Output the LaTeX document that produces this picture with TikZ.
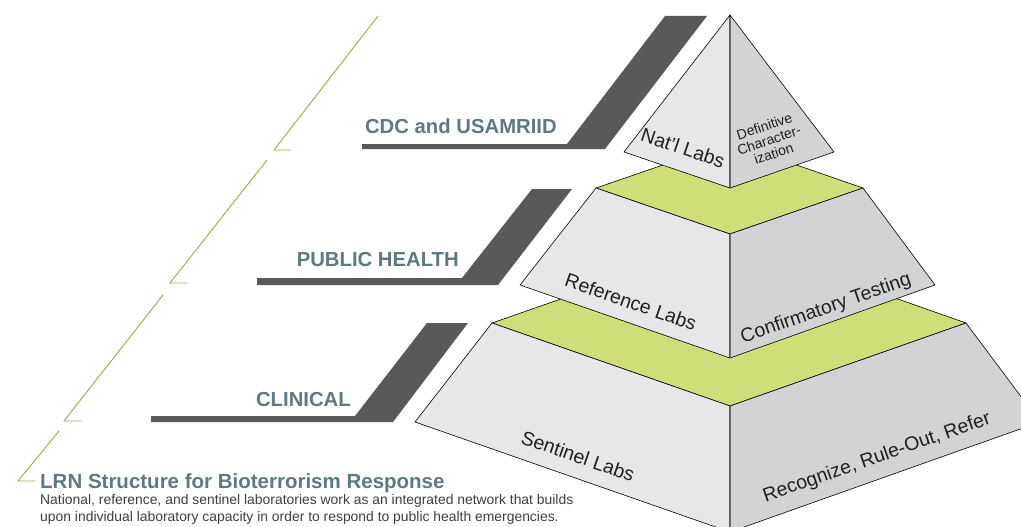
\documentclass[tikz,border=0pt]{standalone}
\usepackage{fontspec}
\setmainfont{Liberation Sans}
\usepackage{tikz}
\usetikzlibrary{positioning}

\definecolor{LabelSlate}{RGB}{95,121,128}
\definecolor{BarGray}{RGB}{88,89,91}
\definecolor{OliveLine}{RGB}{166,164,76}
\definecolor{TopGreen}{RGB}{207,222,120}
\definecolor{FaceLight}{RGB}{230,231,232}
\definecolor{FaceDark}{RGB}{209,211,212}
\definecolor{FaceText}{RGB}{35,31,32}
\definecolor{BodyText}{RGB}{62,62,64}
\definecolor{EdgeGray}{RGB}{109,110,112}

\begin{document}
\begin{tikzpicture}[x=1pt,y=-1pt,
	guide/.style={draw=OliveLine, line width=0.9pt},
	bar/.style={fill=BarGray},
	tierlabel/.style={font=\bfseries\fontsize{20.3}{22}\selectfont, text=LabelSlate, anchor=base east, inner sep=0pt},
	facelabel/.style={font=\fontsize{19.5}{21}\selectfont, text=FaceText, inner sep=0pt},
	leftface/.style={fill=FaceLight, draw=black, line width=0.6pt, line join=round},
	rightface/.style={fill=FaceDark, draw=black, line width=0.6pt, line join=round},
	topface/.style={fill=TopGreen, draw=black, line width=0.6pt, line join=round},
	frontedge/.style={draw=EdgeGray, line width=1pt}]

	\useasboundingbox (0,0) rectangle (1021,527);
	\clip (0,0) rectangle (1021,527);

	%Guide lines
	\draw[guide] (378,16) -- (274,150) -- (291,150);
	\draw[guide] (267,160) -- (170,283) -- (187,283);
	\draw[guide] (163,295) -- (64,421) -- (81,421);
	\draw[guide] (59,431) -- (18,481) -- (35,481);

	%Bars
	\fill[bar] (362,144) -- (567,144) -- (665,16) -- (707,16) -- (605,149) -- (362,149) -- cycle;
	\fill[bar] (257,278) -- (462,278) -- (532,189) -- (572,189) -- (498,285) -- (257,285) -- cycle;
	\fill[bar] (151,416) -- (355,416) -- (427,323) -- (468,323) -- (393,422) -- (151,422) -- cycle;

	%Tier labels
	\node[tierlabel] (LabCDC) at (557,133) {CDC and USAMRIID};
	\node[tierlabel] (LabPH) at (459,266) {PUBLIC HEALTH};
	\node[tierlabel] (LabClin) at (351,406) {CLINICAL};

	%Bottom tier
	\draw[topface] (492,323) -- (730,240) -- (966,323) -- (730,406) -- cycle;
	\draw[leftface] (415,422) -- (492,323) -- (730,406) -- (730,532) -- cycle;
	\draw[rightface] (730,406) -- (966,323) -- (1040,422) -- (730,532) -- cycle;
	\draw[frontedge] (730,406) -- (730,532);

	%Middle tier
	\draw[topface] (596,188) -- (730,142) -- (863,188) -- (730,234) -- cycle;
	\draw[leftface] (520,285) -- (596,188) -- (730,234) -- (730,358) -- cycle;
	\draw[rightface] (730,234) -- (863,188) -- (935,285) -- (730,358) -- cycle;
	\draw[frontedge] (730,234) -- (730,358);

	%Top pyramid
	\draw[leftface] (624,152) -- (730,15) -- (730,188) -- cycle;
	\draw[rightface] (730,15) -- (834,152) -- (730,188) -- cycle;
	\draw[frontedge] (730,18) -- (730,188);

	%Face labels
	\node[facelabel, rotate=-18.6] (NatLabs) at (683,148) {Nat'l Labs};
	\node[facelabel, rotate=18.6, align=center, font=\fontsize{14}{14.5}\selectfont] (DefChar) at (769,140) {Definitive\\Character-\\ization};
	\node[facelabel, rotate=-19.2] (RefLabs) at (631,302) {Reference Labs};
	\node[facelabel, rotate=19.2] (ConfTest) at (826,309) {Confirmatory Testing};
	\node[facelabel, rotate=-19.2] (SentLabs) at (578,456) {Sentinel Labs};
	\node[facelabel, rotate=19.2] (RecRule) at (877,458) {Recognize, Rule-Out, Refer};

	%Caption
	\node[font=\bfseries\fontsize{20.5}{22}\selectfont, text=LabelSlate, anchor=base west, inner sep=0pt] (Title) at (40,488) {LRN Structure for Bioterrorism Response};
	\node[font=\fontsize{13.9}{17}\selectfont, text=BodyText, inner sep=0pt, align=left, below=6pt of Title.base west, anchor=north west] (Body) {National, reference, and sentinel laboratories work as an integrated network that builds\\upon individual laboratory capacity in order to respond to public health emergencies.};

\end{tikzpicture}
\end{document}
